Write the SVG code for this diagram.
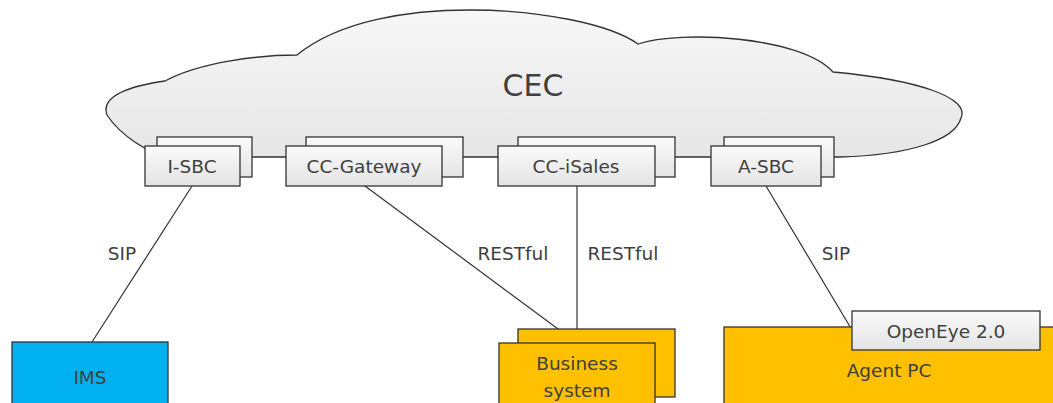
<svg xmlns="http://www.w3.org/2000/svg" width="1053" height="403" viewBox="0 0 1053 403">
  <defs>
    <linearGradient id="cloudFill" x1="0" y1="0" x2="0" y2="1">
      <stop offset="0" stop-color="#f7f7f7"/>
      <stop offset="1" stop-color="#e6e6e6"/>
    </linearGradient>
    <linearGradient id="boxFill" x1="0" y1="0" x2="0" y2="1">
      <stop offset="0" stop-color="#fafafa"/>
      <stop offset="1" stop-color="#e4e4e4"/>
    </linearGradient>
  </defs>
  <style>
    text { font-family: "DejaVu Sans", "Open Sans", sans-serif; fill: #404040; text-anchor: middle; dominant-baseline: central; }
    .lbl { font-size: 18.5px; }
    .edge { stroke: #333; stroke-width: 1.2; fill: none; }
    .box { fill: url(#boxFill); stroke: #333; stroke-width: 1.3; }
    .yellow { fill: #ffc000; stroke: #333; stroke-width: 1.3; }
    .blue { fill: #00b0f0; stroke: #333; stroke-width: 1.3; }
  </style>

  <!-- CEC cloud -->
  <g id="cec">
    <path d="M107,115 C100,96 130,86 165,81 C200,62 260,55 297,55 C340,20 410,10 470,10 C540,10 610,24 638,44 C680,30 800,36 833,72 C920,80 970,98 961,118 C955,140 910,155 840,157 L170,157 C150,155 120,135 107,115 Z"
          fill="url(#cloudFill)" stroke="#333" stroke-width="1.3"/>
    <text x="533" y="85" font-size="30">CEC</text>
  </g>

  <!-- connectors -->
  <g id="connectors">
    <line class="edge" x1="192" y1="186" x2="92" y2="342"/>
    <line class="edge" x1="365" y1="186" x2="577" y2="343"/>
    <line class="edge" x1="577" y1="186" x2="577" y2="343"/>
    <line class="edge" x1="766" y1="186" x2="852" y2="330"/>
    <text class="lbl" x="122" y="253">SIP</text>
    <text class="lbl" x="513" y="253">RESTful</text>
    <text class="lbl" x="623" y="253">RESTful</text>
    <text class="lbl" x="836" y="253">SIP</text>
  </g>

  <g id="i-sbc">
    <rect class="box" x="157" y="137" width="95" height="40"/>
    <rect class="box" x="145" y="146" width="95" height="40"/>
    <text class="lbl" x="192" y="166">I-SBC</text>
  </g>

  <g id="cc-gateway">
    <rect class="box" x="306" y="137" width="157" height="40"/>
    <rect class="box" x="286" y="146" width="156" height="40"/>
    <text class="lbl" x="364" y="166">CC-Gateway</text>
  </g>

  <g id="cc-isales">
    <rect class="box" x="518" y="137" width="157" height="40"/>
    <rect class="box" x="498" y="146" width="157" height="40"/>
    <text class="lbl" x="576" y="166">CC-iSales</text>
  </g>

  <g id="a-sbc">
    <rect class="box" x="724" y="137" width="110" height="40"/>
    <rect class="box" x="711" y="146" width="110" height="40"/>
    <text class="lbl" x="766" y="166">A-SBC</text>
  </g>

  <g id="ims">
    <rect class="blue" x="12" y="342" width="156" height="70"/>
    <text class="lbl" x="90" y="377">IMS</text>
  </g>

  <g id="business-system">
    <rect class="yellow" x="518" y="329" width="157" height="68"/>
    <rect class="yellow" x="499" y="343" width="156" height="70"/>
    <text class="lbl" x="577" y="363">Business</text>
    <text class="lbl" x="577" y="390">system</text>
  </g>

  <g id="agent-pc">
    <rect class="yellow" x="724" y="327" width="340" height="90"/>
    <text class="lbl" x="889" y="370">Agent PC</text>
  </g>

  <g id="openeye">
    <rect class="box" x="852" y="311" width="188" height="39"/>
    <text class="lbl" x="946" y="331">OpenEye 2.0</text>
  </g>
</svg>
